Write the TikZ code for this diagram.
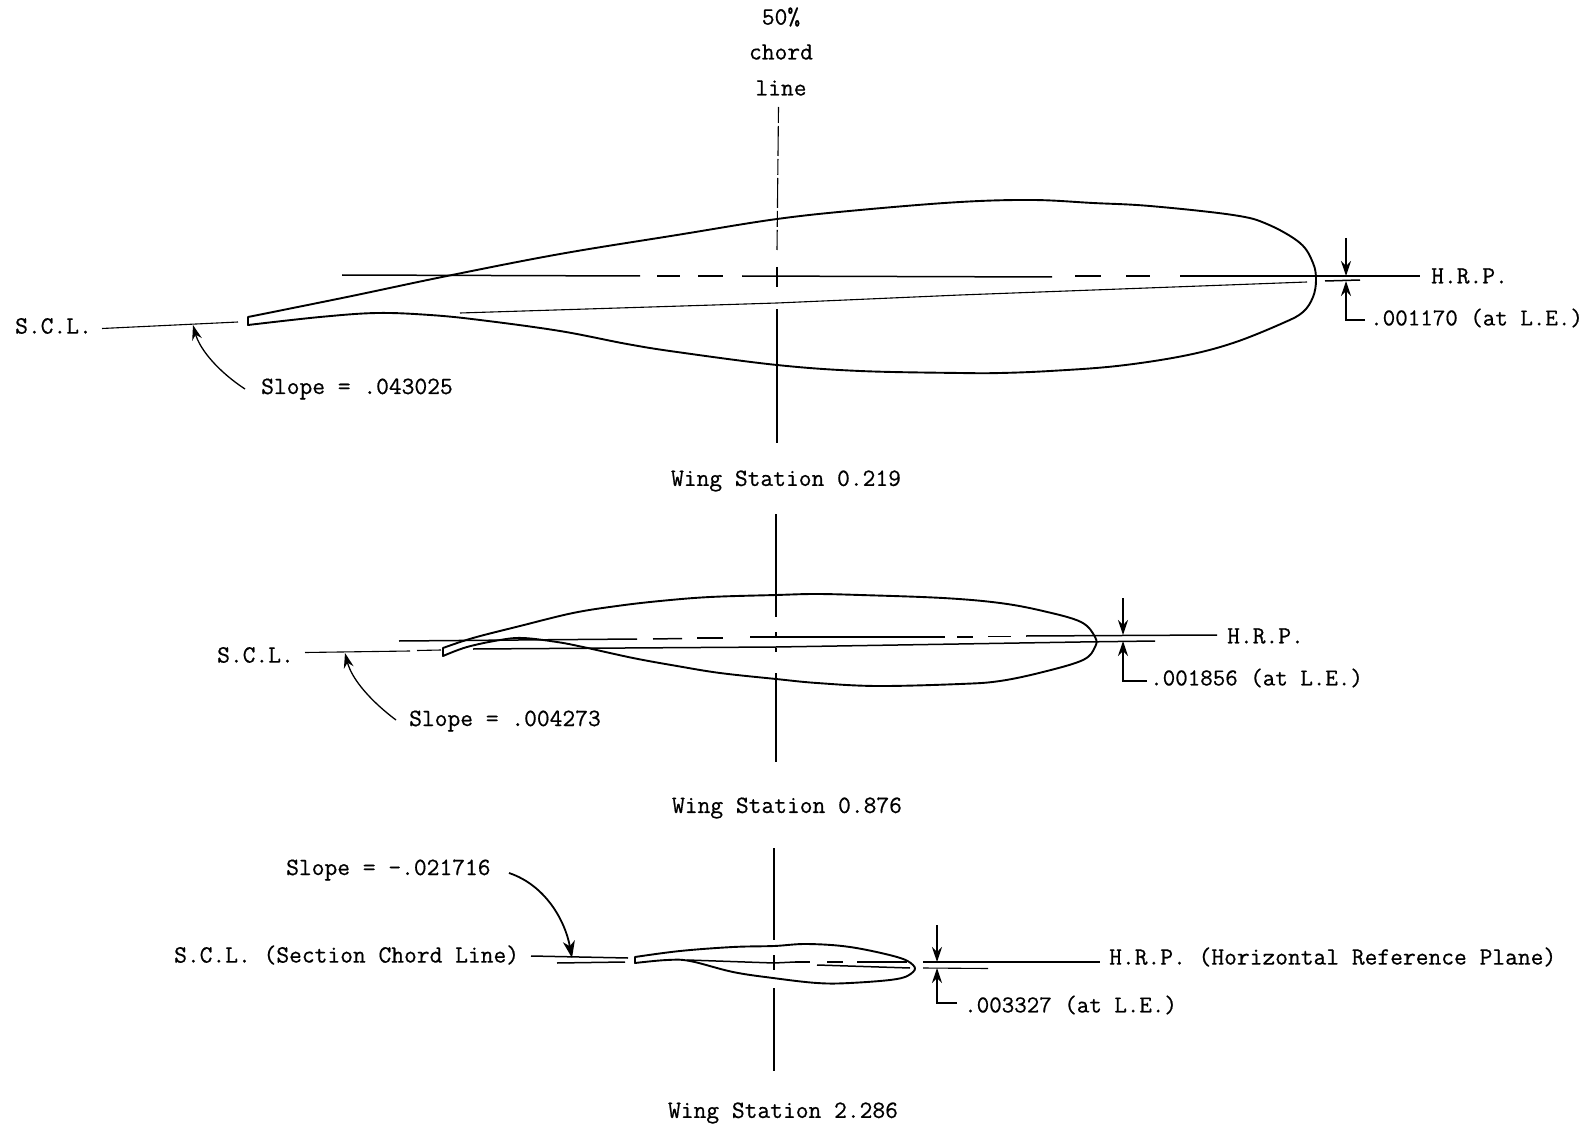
\documentclass[tikz,border=0pt]{standalone}
\usepackage{fontspec}
\usetikzlibrary{arrows.meta}
\newfontfamily\twfont[FakeBold=0.6]{Latin Modern Mono}
\tikzset{
  lbl/.style={font=\twfont\fontsize{24.8}{24.8}\selectfont,inner sep=0pt,anchor=west,text=black},
  lblsmall/.style={lbl,font=\twfont\fontsize{24.3}{24.3}\selectfont},
  foil/.style={line width=1.9pt,line join=round},
  refline/.style={line width=1.5pt},
  thinline/.style={line width=1.1pt},
  centre/.style={line width=1.3pt},
  pointer/.style={line width=1.3pt,-{Stealth[length=15pt,width=10pt,inset=5pt]}},
  heavypointer/.style={line width=1.8pt,-{Stealth[length=17pt,width=12pt,inset=5pt]}}
}
\begin{document}
\begin{tikzpicture}[x=1pt,y=-1pt]
\useasboundingbox (0,0) rectangle (1591,1126);
% ---------- top section
\node[lbl,anchor=center] (t50) at (781,17) {50\%};
\node[lbl,anchor=center] (tchord) at (781,52) {chord};
\node[lbl,anchor=center] (tline) at (781,88) {line};
\draw[thinline,dash pattern=on 16pt off 3pt on 30pt off 3pt] (778.5,107) -- (777,250);
\draw[centre] (777,267) -- (777,287);
\draw[centre] (777,309) -- (777,443);
\draw[foil] plot[smooth,tension=.6] coordinates {(248,317) (347,297) (447,276) (560,254) (677,235) (777,219) (860,210) (960,202) (1033,200) (1093,203) (1150,206) (1233,215) (1267,224) (1300,243) (1313,263) (1316,280) (1313,297) (1303,312) (1283,323) (1233,343) (1183,356) (1117,366) (1050,371) (1000,373) (960,373) (860,371) (777,365) (677,352) (627,344) (560,331) (480,320) (430,315) (377,313) (320,317) (248,325)} -- cycle;
\draw[refline] (342,275) -- (640,276);
\draw[refline] (657,276) -- (680,276);
\draw[refline] (698,276) -- (723,276);
\draw[refline] (742,276) -- (1052,277);
\draw[refline] (1075,276) -- (1101,276);
\draw[refline] (1126,276) -- (1150,276);
\draw[refline] (1180,276) -- (1420,276);
\node[lbl] (hrpA) at (1431,276) {H.R.P.};
\draw[thinline] (460,313) -- (777,303) -- (960,295) -- (1307,282);
\draw[refline] (1325,281) -- (1360,280);
\draw[thinline] (102,328.5) -- (238,322);
\node[lbl] (sclA) at (15,326) {S.C.L.};
\node[lbl] (slopeA) at (261,389) {Slope = .043025};
\coordinate (sa1) at (245,389);
\coordinate (sa2) at (193,325);
\draw[pointer] (sa1) .. controls (219,372) and (200,350) .. (sa2);
\coordinate (da1) at (1346,238);
\coordinate (da2) at (1346,276);
\coordinate (da3) at (1365,320);
\coordinate (da4) at (1346,281);
\draw[pointer] (da1) -- (da2);
\draw[pointer] (da3) -- (1346,320) -- (da4);
\node[lblsmall] (leA) at (1370,318) {.001170 (at L.E.)};
\node[lbl,anchor=center] (capA) at (786,481) {Wing Station 0.219};
% ---------- middle section
\draw[centre] (776,514) -- (776,617);
\draw[thinline] (776,632) -- (776,636);
\draw[thinline] (776,648) -- (776,652);
\draw[centre] (776,673) -- (776,762);
\draw[foil] plot[smooth,tension=.6] coordinates {(443,648) (473,638) (520,626) (573,613) (617,606) (660,601) (710,597) (776,595) (815,594) (860,595) (943,598) (1000,603) (1043,611) (1081,622) (1095,637) (1095,647) (1083,660) (1043,672) (1000,681) (960,684) (877,686) (817,683) (776,679) (720,673) (677,666) (633,658) (583,647) (557,642) (523,638) (500,640) (467,647) (443,656)} -- cycle;
\draw[refline] (399,641) -- (637,639);
\draw[refline] (653,639) -- (682,638.5);
\draw[refline] (697,638) -- (723,638);
\draw[refline] (750,637) -- (945,637);
\draw[refline] (957,637) -- (973,637);
\draw[refline] (988,636.5) -- (1011,636.5);
\draw[refline] (1026,636) -- (1217,635);
\node[lbl] (hrpB) at (1227,636) {H.R.P.};
\draw[thinline] (305,652.5) -- (410,651);
\draw[thinline] (417,650.5) -- (441,650);
\draw[refline] (473,649) -- (776,647) -- (1080,642) -- (1155,641);
\node[lbl] (sclB) at (217,655) {S.C.L.};
\node[lbl] (slopeB) at (409,721) {Slope = .004273};
\coordinate (sb1) at (396,720);
\coordinate (sb2) at (345,653);
\draw[pointer] (sb1) .. controls (372,702) and (352,680) .. (sb2);
\coordinate (db1) at (1123,598);
\coordinate (db2) at (1123,635);
\coordinate (db3) at (1147,681);
\coordinate (db4) at (1123,641);
\draw[pointer] (db1) -- (db2);
\draw[pointer] (db3) -- (1123,681) -- (db4);
\node[lblsmall] (leB) at (1150,678) {.001856 (at L.E.)};
\node[lbl,anchor=center] (capB) at (787,808) {Wing Station 0.876};
% ---------- bottom section
\draw[centre] (774,848) -- (774,940);
\draw[thinline] (774,955) -- (774,970);
\draw[centre] (774,988) -- (774,1071);
\draw[foil] plot[smooth,tension=.6] coordinates {(635,957) (680,951) (733,947) (774,946) (807,944) (850,947) (897,957) (913,965) (913,972) (897,979) (850,983) (817,983) (773,978) (733,972) (690,961) (667,960) (635,963)} -- cycle;
\draw[refline] (687,960) -- (774,963) -- (795,962);
\draw[line width=2.8pt] (795,962) -- (810,962);
\draw[line width=2.5pt] (827,962) -- (843,962);
\draw[refline] (857,962) -- (907,962);
\draw[refline] (817,965) -- (910,968);
\draw[refline] (923,962) -- (1100,962);
\draw[thinline] (923,968) -- (988,968.5);
\draw[refline] (531,956) -- (628,958);
\draw[refline] (557,963) -- (625,962);
\node[lbl] (sclC) at (174,955) {S.C.L. (Section Chord Line)};
\node[lbl] (hrpC) at (1109,957) {H.R.P. (Horizontal Reference Plane)};
\node[lbl] (slopeC) at (286,870) {Slope = -.021716};
\coordinate (sc1) at (509,873);
\coordinate (sc2) at (572,958);
\draw[heavypointer] (sc1) .. controls (545,885) and (565,920) .. (sc2);
\coordinate (dc1) at (937,925);
\coordinate (dc2) at (937,962);
\coordinate (dc3) at (957,1003);
\coordinate (dc4) at (937,968);
\draw[pointer] (dc1) -- (dc2);
\draw[pointer] (dc3) -- (937,1003) -- (dc4);
\node[lblsmall] (leC) at (964,1005) {.003327 (at L.E.)};
\node[lbl,anchor=center] (capC) at (783,1113) {Wing Station 2.286};
\end{tikzpicture}
\end{document}
